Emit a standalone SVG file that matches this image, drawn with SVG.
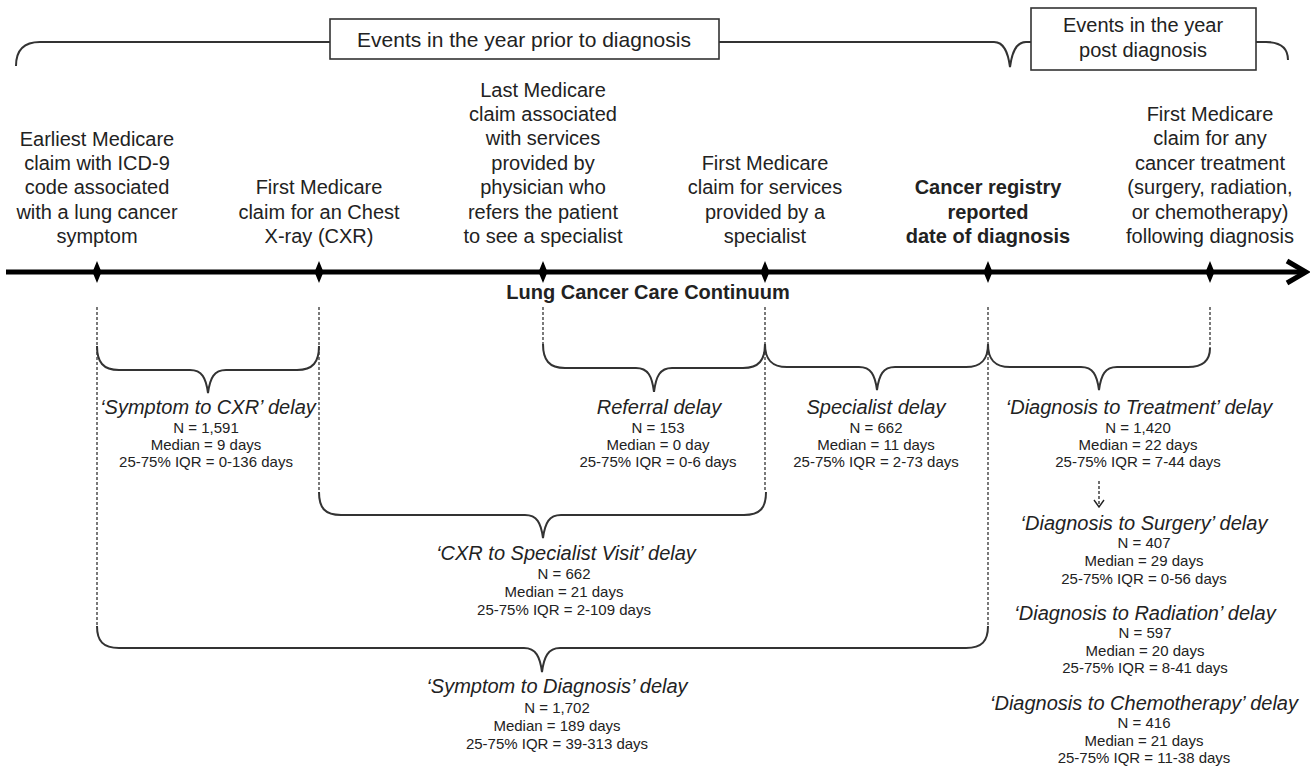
<svg xmlns="http://www.w3.org/2000/svg" width="1310" height="766" viewBox="0 0 1310 766">
<defs>
<style>
text{font-family:"Liberation Sans",Arial,sans-serif;fill:#222;text-anchor:middle}
.lbl{font-size:20px}
.b{font-weight:bold}
.t{font-size:20px;font-style:italic}
.s{font-size:15px}
.hdr{font-size:20px}
.brace{fill:none;stroke:#333;stroke-width:2}
.dash{fill:none;stroke:#333;stroke-width:1.3;stroke-dasharray:3 2}
.box{fill:#fff;stroke:#333;stroke-width:1.6}
.axis{fill:none;stroke:#000;stroke-width:5}
</style>
<marker id="vhead" viewBox="0 0 12 12" refX="11" refY="6" markerWidth="12" markerHeight="12" markerUnits="userSpaceOnUse" orient="auto">
<path d="M4,1 L11,6 L4,11" fill="none" stroke="#222" stroke-width="1.4"/>
</marker>
</defs>

<g id="header">
<path class="brace" d="M16,66 C16,50 24,42 40,42 L994,42 C1004,42 1008,52 1010,67 C1012,52 1016,42 1026,42 L1266,42 C1280,42 1288,48 1288,60"/>
<rect class="box" x="330" y="19" width="389" height="40"/>
<text class="hdr" x="524" y="47" style="font-size:21px">Events in the year prior to diagnosis</text>
<rect class="box" x="1031" y="8" width="225" height="62"/>
<text class="hdr" x="1143" y="32">Events in the year</text>
<text class="hdr" x="1143" y="57">post diagnosis</text>
</g>

<g id="timeline">
<line class="axis" x1="6" y1="272" x2="1304" y2="272"/>
<path class="axis" d="M1287,261 L1306,272 L1287,283" stroke-linejoin="miter"/>
<path d="M97,261 L101.5,272 L97,283 L92.5,272Z M319,261 L323.5,272 L319,283 L314.5,272Z M543,261 L547.5,272 L543,283 L538.5,272Z M765,261 L769.5,272 L765,283 L760.5,272Z M988,261 L992.5,272 L988,283 L983.5,272Z M1210,261 L1214.5,272 L1210,283 L1205.5,272Z" fill="#000"/>
<text class="lbl b" x="648" y="299">Lung Cancer Care Continuum</text>
</g>

<g id="event-symptom">
<text class="lbl" x="97" y="146">Earliest Medicare</text>
<text class="lbl" x="97" y="170">claim  with ICD-9</text>
<text class="lbl" x="97" y="194">code associated</text>
<text class="lbl" x="97" y="219">with a lung cancer</text>
<text class="lbl" x="97" y="243">symptom</text>
</g>
<g id="event-cxr">
<text class="lbl" x="319" y="194">First Medicare</text>
<text class="lbl" x="319" y="219">claim for an Chest</text>
<text class="lbl" x="319" y="243">X-ray (CXR)</text>
</g>
<g id="event-referral">
<text class="lbl" x="543" y="97">Last Medicare</text>
<text class="lbl" x="543" y="121">claim associated</text>
<text class="lbl" x="543" y="145">with services</text>
<text class="lbl" x="543" y="170">provided by</text>
<text class="lbl" x="543" y="194">physician who</text>
<text class="lbl" x="543" y="219">refers the patient</text>
<text class="lbl" x="543" y="243">to see a specialist</text>
</g>
<g id="event-specialist">
<text class="lbl" x="765" y="170">First Medicare</text>
<text class="lbl" x="765" y="194">claim for services</text>
<text class="lbl" x="765" y="219">provided by a</text>
<text class="lbl" x="765" y="243">specialist</text>
</g>
<g id="event-diagnosis">
<text class="lbl b" x="988" y="194">Cancer registry</text>
<text class="lbl b" x="988" y="219">reported</text>
<text class="lbl b" x="988" y="243">date of diagnosis</text>
</g>
<g id="event-treatment">
<text class="lbl" x="1210" y="121">First Medicare</text>
<text class="lbl" x="1210" y="145">claim for any</text>
<text class="lbl" x="1210" y="170">cancer treatment</text>
<text class="lbl" x="1210" y="194">(surgery, radiation,</text>
<text class="lbl" x="1210" y="219">or chemotherapy)</text>
<text class="lbl" x="1210" y="243">following diagnosis</text>
</g>

<g id="connectors">
<line class="dash" x1="97" y1="307" x2="97" y2="626"/>
<line class="dash" x1="319" y1="307" x2="319" y2="492"/>
<line class="dash" x1="543" y1="307" x2="543" y2="344"/>
<line class="dash" x1="765" y1="307" x2="765" y2="492"/>
<line class="dash" x1="988" y1="307" x2="988" y2="626"/>
<line class="dash" x1="1210" y1="307" x2="1210" y2="348"/>
<path class="brace" d="M97,346 C97,362 103,370 119,370 L190,370 C202,370 206,378 208,393 C210,378 214,370 226,370 L297,370 C313,370 319,362 319,346"/>
<path class="brace" d="M543,344 C543,360 549,368 565,368 L636,368 C648,368 652,376 654,392 C656,376 660,368 672,368 L743,368 C759,368 765,360 765,344"/>
<path class="brace" d="M765,344 C765,359 771,367 787,367 L859,367 C871,367 875,375 877,390 C879,375 883,367 895,367 L966,367 C982,367 988,359 988,344"/>
<path class="brace" d="M988,344 C988,359 994,367 1010,367 L1081,367 C1093,367 1097,375 1099,390 C1101,375 1105,367 1117,367 L1188,367 C1204,367 1210,359 1210,348"/>
<path class="brace" d="M319,492 C319,508 325,515 341,515 L525,515 C537,515 541,523 543,538 C545,523 549,515 561,515 L744,515 C760,515 766,508 766,492"/>
<path class="brace" d="M97,626 C97,641 103,648 119,648 L524,648 C536,648 540,657 542,672 C544,657 548,648 560,648 L966,648 C982,648 988,641 988,626"/>
<line x1="1099" y1="481" x2="1099" y2="507" stroke="#222" stroke-width="1.3" stroke-dasharray="3 2" marker-end="url(#vhead)"/>
</g>

<g id="delay-symptom-cxr">
<text class="t" x="208" y="414">‘Symptom to CXR’ delay</text>
<text class="s" x="206" y="433">N = 1,591</text>
<text class="s" x="206" y="450">Median = 9 days</text>
<text class="s" x="206" y="467">25-75% IQR = 0-136 days</text>
</g>
<g id="delay-referral">
<text class="t" x="659" y="414">Referral delay</text>
<text class="s" x="658" y="433">N = 153</text>
<text class="s" x="658" y="450">Median = 0 day</text>
<text class="s" x="658" y="467">25-75% IQR = 0-6 days</text>
</g>
<g id="delay-specialist">
<text class="t" x="876" y="414">Specialist delay</text>
<text class="s" x="876" y="433">N = 662</text>
<text class="s" x="876" y="450">Median = 11 days</text>
<text class="s" x="876" y="467">25-75% IQR = 2-73 days</text>
</g>
<g id="delay-dx-treatment">
<text class="t" x="1139" y="414">‘Diagnosis to Treatment’ delay</text>
<text class="s" x="1138" y="433">N = 1,420</text>
<text class="s" x="1138" y="450">Median = 22 days</text>
<text class="s" x="1138" y="467">25-75% IQR = 7-44 days</text>
</g>
<g id="delay-cxr-specialist">
<text class="t" x="566" y="560">‘CXR to Specialist Visit’ delay</text>
<text class="s" x="564" y="579">N = 662</text>
<text class="s" x="564" y="597">Median = 21 days</text>
<text class="s" x="564" y="615">25-75% IQR = 2-109 days</text>
</g>
<g id="delay-symptom-dx">
<text class="t" x="557" y="693">‘Symptom to Diagnosis’ delay</text>
<text class="s" x="557" y="713">N = 1,702</text>
<text class="s" x="557" y="731">Median = 189 days</text>
<text class="s" x="557" y="749">25-75% IQR = 39-313 days</text>
</g>
<g id="delay-dx-surgery">
<text class="t" x="1144" y="530">‘Diagnosis to Surgery’  delay</text>
<text class="s" x="1144" y="548">N = 407</text>
<text class="s" x="1144" y="566">Median = 29 days</text>
<text class="s" x="1144" y="584">25-75% IQR = 0-56 days</text>
</g>
<g id="delay-dx-radiation">
<text class="t" x="1145" y="620">‘Diagnosis to Radiation’ delay</text>
<text class="s" x="1145" y="638">N = 597</text>
<text class="s" x="1145" y="656">Median = 20 days</text>
<text class="s" x="1145" y="673">25-75% IQR = 8-41 days</text>
</g>
<g id="delay-dx-chemo">
<text class="t" x="1144" y="710">‘Diagnosis to Chemotherapy’  delay</text>
<text class="s" x="1144" y="728">N = 416</text>
<text class="s" x="1144" y="746">Median = 21 days</text>
<text class="s" x="1144" y="763">25-75% IQR = 11-38 days</text>
</g>
</svg>
